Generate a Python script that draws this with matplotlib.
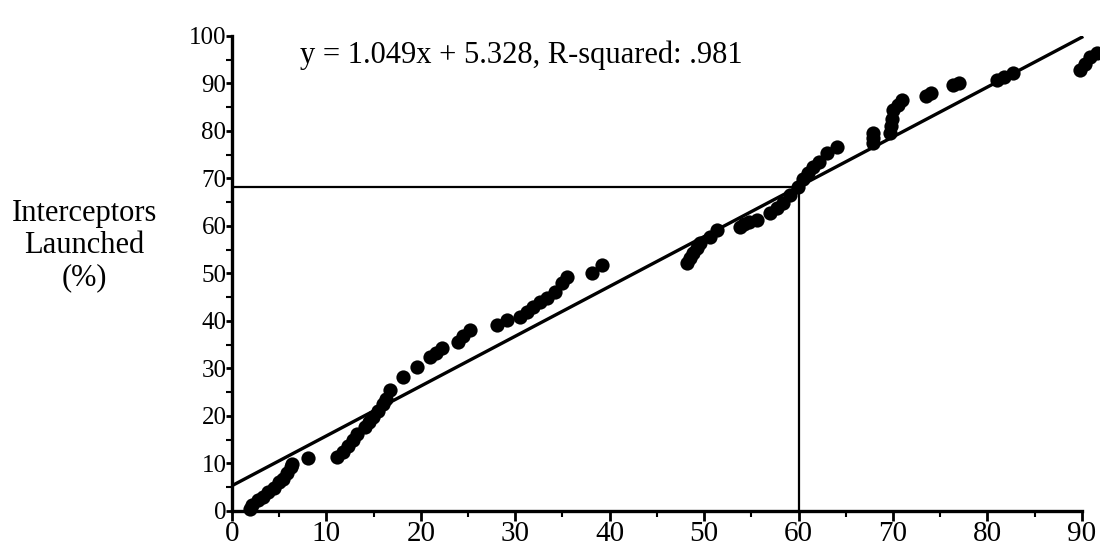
import numpy as np
import matplotlib
matplotlib.use("Agg")
from matplotlib import pyplot as plt
from matplotlib.ticker import MultipleLocator

# regression
slope = 1.049
intercept = 5.328
r_squared = ".981"
x_ref = 60

# observed points (x, y in %)
xs = [1.9, 2.1, 2.8, 3.3, 3.8, 4.4, 5.0, 5.4, 5.8, 6.2, 6.4, 8.1,
      11.1, 11.8, 12.3, 12.8, 13.2, 14.1, 14.5, 14.9, 15.5, 16.0, 16.3,
      16.7, 18.1, 19.6, 21.0, 21.6, 22.2, 23.9, 24.5, 25.2, 28.1, 29.1,
      30.5, 31.2, 31.9, 32.6, 33.4, 34.2, 35.0, 35.5, 38.1, 39.2,
      48.2, 48.5, 48.8, 49.2, 49.6, 50.6, 51.4, 53.8, 54.2, 54.8, 55.6,
      57.0, 57.7, 58.4, 59.1, 59.9, 60.5, 61.0, 61.5, 62.2, 63.0, 64.1,
      67.9, 67.9, 67.9, 69.7, 69.8, 69.9, 70.0, 70.5, 71.0, 73.5, 74.0,
      76.4, 77.0, 81.0, 81.8, 82.7, 89.8, 90.3, 90.9, 91.6]
ys = [0.4, 1.3, 2.3, 3.0, 3.9, 4.8, 6.0, 6.8, 8.0, 9.2, 9.8, 11.1,
      11.4, 12.5, 13.6, 15.0, 16.3, 17.6, 18.7, 19.8, 21.0, 22.5, 23.6,
      25.5, 28.2, 30.3, 32.4, 33.3, 34.3, 35.6, 36.8, 38.1, 39.2, 40.2,
      40.8, 41.8, 42.9, 44.0, 44.8, 46.0, 48.0, 49.3, 50.1, 51.8,
      52.2, 53.3, 54.3, 55.3, 56.4, 57.7, 59.2, 59.8, 60.5, 60.8, 61.3,
      62.7, 63.7, 64.8, 66.5, 68.2, 69.8, 71.2, 72.4, 73.5, 75.4, 76.6,
      77.5, 78.6, 79.6, 79.6, 81.0, 82.5, 84.4, 85.5, 86.5, 87.3, 88.0,
      89.7, 90.2, 90.7, 91.3, 92.2, 92.8, 94.0, 95.6, 96.4]

x_ticks = [0, 10, 20, 30, 40, 50, 60, 70, 80, 90]
y_ticks = [0, 10, 20, 30, 40, 50, 60, 70, 80, 90, 100]

plt.rcParams['font.family'] = ['Liberation Serif', 'DejaVu Serif']

fig = plt.figure(figsize=(11, 5.52), dpi=100)
ax = fig.add_axes([0.2109, 0.0743, 0.788, 0.8605])

ax.scatter(xs, ys, s=105, color='black', zorder=3, clip_on=False, linewidths=0)

xl = np.array([0, 90])
ax.plot(xl, slope * xl + intercept, color='black', lw=2.4, zorder=2)

y_ref = slope * x_ref + intercept
ax.plot([0, x_ref], [y_ref, y_ref], color='black', lw=1.6)
ax.plot([x_ref, x_ref], [0, y_ref], color='black', lw=1.6)

ax.text(7.2, 96.0, "y = %.3fx + %.3f, R-squared: %s" % (slope, intercept, r_squared),
        fontsize=22, va='center', ha='left')

ax.set_xlim(0, 91.8)
ax.set_ylim(0, 100)
ax.set_xticks(x_ticks)
ax.set_yticks(y_ticks)
ax.xaxis.set_minor_locator(MultipleLocator(5))
ax.yaxis.set_minor_locator(MultipleLocator(5))
ax.tick_params(axis='x', which='major', length=7, width=2, labelsize=21, pad=0)
ax.tick_params(axis='y', which='major', length=4, width=2, labelsize=18, pad=0)
ax.tick_params(which='minor', length=4, width=1.5)

for side in ['top', 'right']:
    ax.spines[side].set_visible(False)
ax.spines['left'].set_linewidth(2.4)
ax.spines['bottom'].set_linewidth(2.4)
ax.spines['bottom'].set_bounds(0, 90)

fig.text(0.077, 0.555, "Interceptors\nLaunched\n(%)", fontsize=22,
         ha='center', va='center', linespacing=1.15)

plt.savefig('out.png', dpi=100)
plt.close()
